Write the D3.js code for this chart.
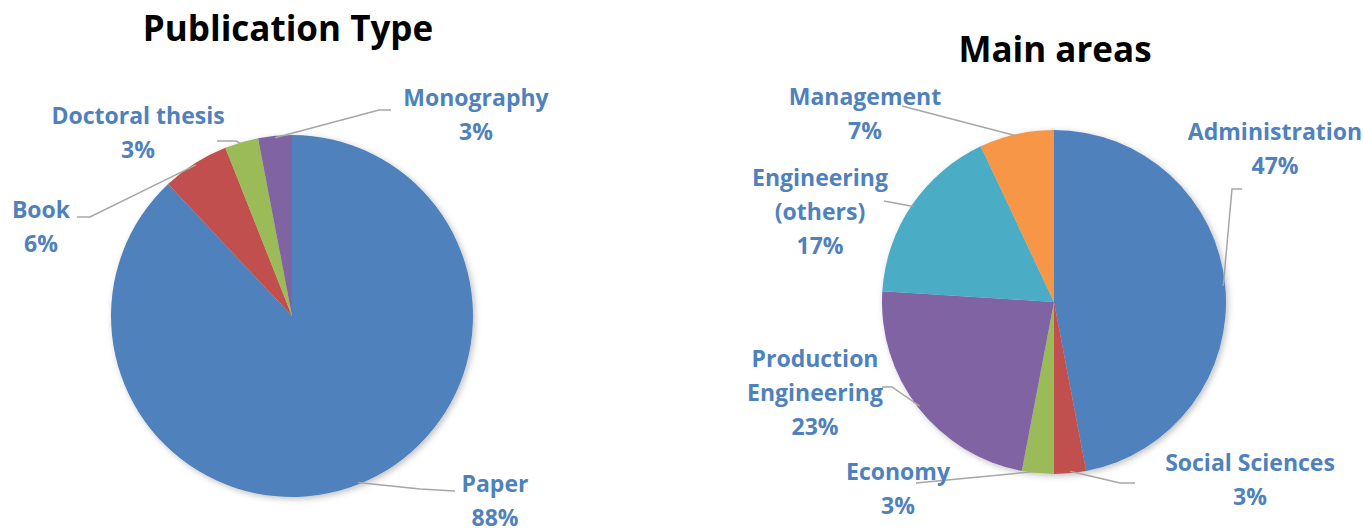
<!DOCTYPE html>
<html>
<head>
<meta charset="utf-8">
<script src="https://cdn.jsdelivr.net/npm/d3@7"></script>
<style>
  body { margin: 0; background: #fff; }
  svg { display: block; font-family: "Open Sans", sans-serif; }
</style>
</head>
<body>
<div id="chart"></div>
<script>
// data
const pubTypes = ["Paper", "Book", "Doctoral thesis", "Monography"];
const pubShares = [88, 6, 3, 3];

const areaNames = ["Administration", "Social Sciences", "Economy", "Production Engineering", "Engineering (others)", "Management"];
const areaShares = [47, 3, 3, 23, 17, 7];

const pieColors = ["#4F81BD", "#C0504D", "#9BBB59", "#8064A2", "#4BACC6", "#F79646"];

// layout of each pie (positions only)
const pubLayout = {
  title: "Publication Type", titleX: 288, titleY: 27,
  cx: 292, cy: 316, r: 181,
  labels: {
    "Paper":           {x: 495, y: 483, lines: ["Paper"], leader: [[455, 491], [420, 489]]},
    "Book":            {x: 41,  y: 209, lines: ["Book"], leader: [[77, 217], [90, 217]]},
    "Doctoral thesis": {x: 138, y: 115, lines: ["Doctoral thesis"], leader: [[217, 141], [236, 141]]},
    "Monography":      {x: 476, y: 97,  lines: ["Monography"], leader: [[391, 110], [379, 110]]}
  }
};

const areaLayout = {
  title: "Main areas", titleX: 1055, titleY: 48,
  cx: 1054, cy: 302, r: 172,
  labels: {
    "Administration":         {x: 1275, y: 131, lines: ["Administration"], leader: [[1242, 189], [1232, 189]]},
    "Social Sciences":        {x: 1250, y: 462, lines: ["Social Sciences"], leader: [[1135, 483], [1120, 483]]},
    "Economy":                {x: 898,  y: 471, lines: ["Economy"], leader: [[916, 483]]},
    "Production Engineering": {x: 815,  y: 358, lines: ["Production", "Engineering"], leader: [[882, 387], [892, 387]]},
    "Engineering (others)":   {x: 820,  y: 177, lines: ["Engineering", "(others)"], leader: [[884, 201]]},
    "Management":             {x: 865,  y: 96,  lines: ["Management"], leader: [[902, 106]]}
  }
};

const width = 1363, height = 530;
const lineGap = 34;

const svg = d3.select("#chart").append("svg")
  .attr("width", width)
  .attr("height", height);

// soft shadow like the office chart
const defs = svg.append("defs");
const f = defs.append("filter").attr("id", "shadow")
  .attr("x", "-10%").attr("y", "-10%").attr("width", "120%").attr("height", "120%");
f.append("feDropShadow")
  .attr("dx", 2).attr("dy", 2).attr("stdDeviation", 3)
  .attr("flood-color", "#000").attr("flood-opacity", 0.25);

function drawPie(names, values, conf) {
  const data = names.map((n, i) => ({name: n, value: values[i]}));
  const color = d3.scaleOrdinal().domain(names).range(pieColors);

  const pie = d3.pie().sort(null).value(d => d.value);
  const arcs = pie(data);
  const arc = d3.arc().innerRadius(0).outerRadius(conf.r);
  const edgeArc = d3.arc().innerRadius(conf.r - 2).outerRadius(conf.r - 2);

  // title
  svg.append("text")
    .attr("x", conf.titleX)
    .attr("y", conf.titleY)
    .attr("text-anchor", "middle")
    .attr("dominant-baseline", "central")
    .attr("font-size", 35)
    .attr("font-weight", "bold")
    .attr("fill", "#000")
    .text(conf.title);

  const g = svg.append("g")
    .attr("transform", `translate(${conf.cx},${conf.cy})`);

  g.append("g")
    .attr("filter", "url(#shadow)")
    .selectAll("path")
    .data(arcs)
    .join("path")
    .attr("fill", d => color(d.data.name))
    .attr("d", arc);

  // leader lines
  const line = d3.line();
  svg.append("g")
    .selectAll("path")
    .data(arcs)
    .join("path")
    .attr("fill", "none")
    .attr("stroke", "#A6A6A6")
    .attr("stroke-width", 1.5)
    .attr("d", d => {
      const lab = conf.labels[d.data.name];
      const c = edgeArc.centroid(d);
      const pts = lab.leader.concat([[c[0] + conf.cx, c[1] + conf.cy]]);
      return line(pts);
    });

  // labels
  const lab = svg.append("g")
    .attr("font-size", 23)
    .attr("font-weight", "bold")
    .attr("fill", "#4F81BD")
    .attr("text-anchor", "middle")
    .selectAll("text")
    .data(arcs)
    .join("text")
    .attr("x", d => conf.labels[d.data.name].x)
    .attr("y", d => conf.labels[d.data.name].y);

  lab.each(function(d) {
    const l = conf.labels[d.data.name];
    const t = d3.select(this);
    const rows = l.lines.concat([d.data.value + "%"]);
    rows.forEach((s, i) => {
      t.append("tspan")
        .attr("x", l.x)
        .attr("y", l.y + i * lineGap)
        .attr("dominant-baseline", "central")
        .text(s);
    });
  });
}

drawPie(pubTypes, pubShares, pubLayout);
drawPie(areaNames, areaShares, areaLayout);
</script>
</body>
</html>
